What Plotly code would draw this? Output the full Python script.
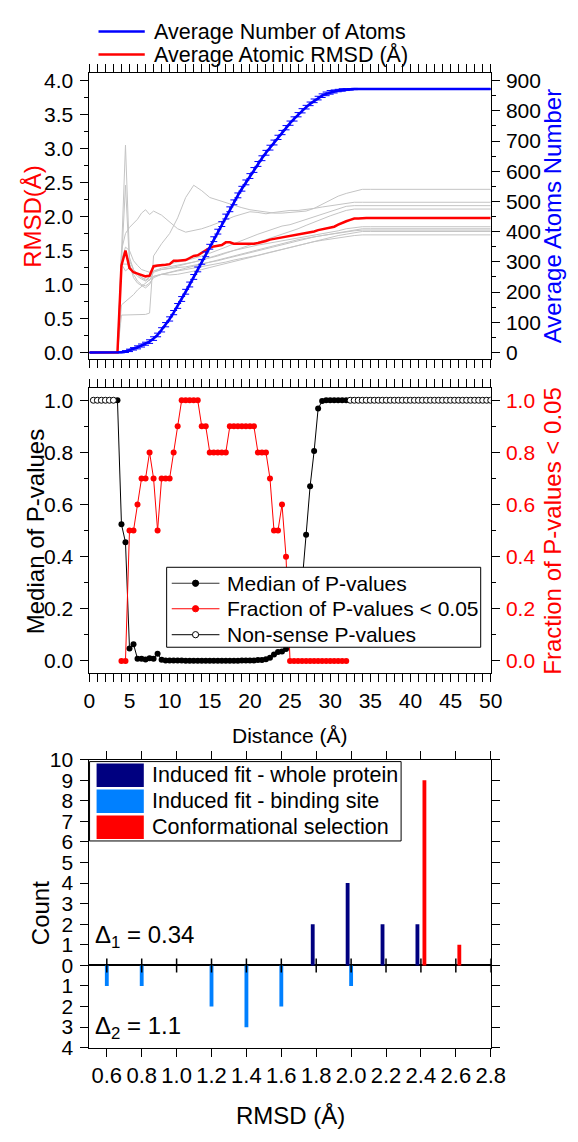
import plotly.graph_objects as go

FONT = "Liberation Sans, Arial, sans-serif"
W, H = 578, 1142

# ---------------- data: top panel ----------------
distance = [0, 0.5, 1, 1.5, 2, 2.5, 3, 3.5, 4, 4.5, 5, 5.5, 6, 6.5, 7, 7.5, 8, 8.5, 9, 9.5,
            10, 10.5, 11, 11.5, 12, 12.5, 13, 13.5, 14, 14.5, 15, 15.5, 16, 16.5, 17, 17.5,
            18, 18.5, 19, 19.5, 20, 20.5, 21, 21.5, 22, 22.5, 23, 23.5, 24, 24.5, 25, 25.5,
            26, 26.5, 27, 27.5, 28, 28.5, 29, 29.5, 30, 30.5, 31, 31.5, 32, 32.5, 33, 33.5,
            34, 34.5, 35, 35.5, 36, 36.5, 37, 37.5, 38, 38.5, 39, 39.5, 40, 40.5, 41, 41.5,
            42, 42.5, 43, 43.5, 44, 44.5, 45, 45.5, 46, 46.5, 47, 47.5, 48, 48.5, 49, 49.5, 50]

avg_atoms = [0, 0, 0, 0, 0, 0, 0, 0,
             1, 3, 7, 12, 17, 23, 29, 36, 46, 58, 75, 92,
             111, 132, 154, 177, 201, 225, 250, 275, 300, 325,
             350, 375, 400, 425, 450, 474, 497, 520, 542, 563,
             584, 604, 624, 643, 661, 678, 695, 712, 728, 744,
             759, 773, 787, 800, 812, 823, 833, 842, 850, 856,
             861, 864, 867, 869, 870, 871, 872,
             872, 872, 872, 872, 872, 872, 872, 872, 872, 872, 872, 872, 872, 872, 872, 872,
             872, 872, 872, 872, 872, 872, 872, 872, 872, 872, 872, 872, 872, 872, 872, 872,
             872, 872]

atoms_err = [0, 0, 0, 0, 0, 0, 0, 0,
             2, 3, 4, 4, 5, 5, 5, 6, 6, 6, 7, 7,
             7, 7, 8, 8, 8, 8, 8, 8, 8, 8,
             8, 8, 8, 8, 8, 8, 8, 8, 8, 8,
             8, 8, 8, 8, 8, 8, 8, 7, 7, 7,
             7, 7, 7, 7, 6, 6, 6, 6, 6, 6,
             6, 5, 4, 4, 3, 2, 2,
             0, 0, 0, 0, 0, 0, 0, 0, 0, 0, 0, 0, 0, 0, 0, 0,
             0, 0, 0, 0, 0, 0, 0, 0, 0, 0, 0, 0, 0, 0, 0, 0,
             0, 0]

avg_rmsd = [0, 0, 0, 0, 0, 0, 0, 0,
            1.28, 1.50, 1.24, 1.18, 1.16, 1.14, 1.12, 1.13, 1.27, 1.28, 1.28, 1.29,
            1.30, 1.35, 1.35, 1.35, 1.36, 1.39, 1.42, 1.43, 1.47, 1.50,
            1.54, 1.56, 1.57, 1.58, 1.62, 1.62, 1.60, 1.60, 1.59, 1.59,
            1.59, 1.60, 1.61, 1.62, 1.64, 1.66, 1.67, 1.68, 1.69, 1.70,
            1.71, 1.72, 1.73, 1.74, 1.75, 1.76, 1.78, 1.80, 1.81, 1.83,
            1.84, 1.85, 1.88, 1.91, 1.93, 1.95, 1.97, 1.97, 1.98,
            1.98, 1.98, 1.98, 1.98, 1.98, 1.98, 1.98, 1.98, 1.98, 1.98, 1.98, 1.98, 1.98, 1.98, 1.98, 1.98,
            1.98, 1.98, 1.98, 1.98, 1.98, 1.98, 1.98, 1.98, 1.98, 1.98, 1.98, 1.98, 1.98, 1.98, 1.98, 1.98]

# individual (grey) RMSD curves, sampled at their break points
gray_x = [0, 3.5, 4, 4.5, 5, 5.5, 6, 6.5, 7, 7.5, 8, 9, 10, 11, 12, 13, 14, 15, 16, 17,
          18, 19, 20, 21, 22, 23, 24, 25, 26, 27, 28, 29, 30, 31, 32, 33, 34, 35, 50]
gray_1 = [0, 0, 1.45, 3.05, 1.40, 1.22, 1.15, 1.10, 1.06, 1.12, 1.20, 1.24, 1.26, 1.28, 1.30, 1.33, 1.36, 1.40, 1.44, 1.47,
          1.50, 1.53, 1.56, 1.58, 1.60, 1.62, 1.64, 1.66, 1.68, 1.70, 1.72, 1.74, 1.76, 1.79, 1.82, 1.84, 1.85, 1.85, 1.85]
gray_2 = [0, 0, 1.30, 2.46, 1.30, 1.10, 1.02, 0.98, 0.95, 1.00, 1.12, 1.15, 1.18, 1.20, 1.22, 1.24, 1.26, 1.28, 1.30, 1.33,
          1.36, 1.38, 1.40, 1.43, 1.46, 1.49, 1.52, 1.55, 1.58, 1.60, 1.63, 1.65, 1.67, 1.69, 1.71, 1.72, 1.73, 1.73, 1.73]
gray_3 = [0, 0, 0.55, 0.55, 0.55, 0.55, 0.55, 0.55, 0.56, 0.58, 1.42, 1.60, 1.75, 1.98, 2.28, 2.46, 2.38, 2.28, 2.24, 2.20,
          2.16, 2.13, 2.10, 2.08, 2.06, 2.05, 2.05, 2.06, 2.07, 2.08, 2.12, 2.18, 2.25, 2.30, 2.34, 2.37, 2.40, 2.40, 2.40]
gray_4 = [0, 0, 0.70, 0.75, 0.80, 0.85, 0.92, 0.97, 1.02, 1.07, 1.12, 1.15, 1.14, 1.15, 1.17, 1.19, 1.22, 1.25, 1.28, 1.31,
          1.34, 1.37, 1.40, 1.43, 1.46, 1.49, 1.52, 1.55, 1.58, 1.61, 1.64, 1.67, 1.70, 1.72, 1.74, 1.76, 1.78, 1.78, 1.78]
gray_5 = [0, 0, 1.50, 1.75, 1.84, 1.90, 1.96, 2.05, 2.10, 2.03, 2.08, 2.02, 1.92, 1.82, 1.77, 1.79, 1.82, 1.86, 1.90, 1.95,
          2.00, 2.04, 2.07, 2.06, 2.04, 2.06, 2.08, 2.09, 2.09, 2.10, 2.12, 2.14, 2.16, 2.18, 2.20, 2.21, 2.21, 2.21, 2.21]
gray_6 = [0, 0, 1.35, 1.55, 1.50, 1.35, 1.28, 1.22, 1.20, 1.18, 1.25, 1.28, 1.30, 1.33, 1.35, 1.38, 1.42, 1.46, 1.50, 1.55,
          1.60, 1.65, 1.70, 1.74, 1.78, 1.82, 1.86, 1.88, 1.92, 1.96, 2.00, 2.04, 2.08, 2.12, 2.15, 2.16, 2.16, 2.16, 2.16]
gray_7 = [0, 0, 1.40, 1.45, 1.35, 1.22, 1.15, 1.10, 1.08, 1.06, 1.18, 1.22, 1.24, 1.27, 1.30, 1.32, 1.35, 1.38, 1.42, 1.46,
          1.50, 1.54, 1.58, 1.62, 1.66, 1.70, 1.74, 1.77, 1.82, 1.87, 1.92, 1.97, 2.01, 2.05, 2.09, 2.11, 2.11, 2.11, 2.11]
gray_8 = [0, 0, 1.30, 1.30, 1.30, 1.15, 1.05, 1.00, 0.98, 1.02, 1.10, 1.15, 1.18, 1.22, 1.25, 1.27, 1.30, 1.33, 1.36, 1.39,
          1.42, 1.45, 1.48, 1.51, 1.54, 1.57, 1.60, 1.63, 1.66, 1.68, 1.70, 1.72, 1.74, 1.76, 1.78, 1.80, 1.82, 1.82, 1.82]
gray_9 = [0, 0, 1.30, 1.20, 1.25, 1.18, 1.12, 1.08, 1.05, 1.10, 1.20, 1.22, 1.24, 1.25, 1.26, 1.28, 1.30, 1.32, 1.35, 1.38,
          1.41, 1.44, 1.47, 1.50, 1.53, 1.56, 1.59, 1.62, 1.65, 1.67, 1.70, 1.72, 1.74, 1.76, 1.78, 1.79, 1.80, 1.80, 1.80]
gray_curves = [gray_1, gray_2, gray_3, gray_4, gray_5, gray_6, gray_7, gray_8, gray_9]

# ---------------- data: middle panel ----------------
median_x = [3.5, 4, 4.5, 5, 5.5, 6, 6.5, 7, 7.5, 8, 8.5, 9, 9.5, 10, 10.5, 11, 11.5, 12, 12.5, 13,
            13.5, 14, 14.5, 15, 15.5, 16, 16.5, 17, 17.5, 18, 18.5, 19, 19.5, 20, 20.5, 21, 21.5,
            22, 22.5, 23, 23.5, 24, 24.5, 25, 25.5, 26, 26.5, 27, 27.5, 28, 28.5, 29, 29.5,
            30, 30.5, 31, 31.5, 32]
median_p = [1.0, 0.524, 0.455, 0.048, 0.064, 0.008, 0.008, 0.005, 0.010, 0.008, 0.027, 0.004,
            0.002, 0.002, 0.002, 0.002, 0.002, 0.001, 0.001, 0.001, 0.001, 0.001, 0.001, 0.001, 0.001,
            0.001, 0.001, 0.001, 0.001, 0.001, 0.001, 0.002, 0.002, 0.002, 0.002, 0.003, 0.003,
            0.006, 0.012, 0.025, 0.034, 0.036, 0.046, 0.07, 0.12, 0.20, 0.30, 0.484, 0.670, 0.805,
            0.968, 0.997, 1.0,
            1.0, 1.0, 1.0, 1.0, 1.0]

fraction_x = [4, 4.5, 5, 5.5, 6, 6.5, 7, 7.5, 8, 8.5, 9, 9.5, 10, 10.5, 11, 11.5, 12, 12.5, 13,
              13.5, 14, 14.5, 15, 15.5, 16, 16.5, 17, 17.5, 18, 18.5, 19, 19.5, 20, 20.5, 21, 21.5,
              22, 22.5, 23, 23.5, 24, 24.5, 25, 25.5, 26, 26.5, 27, 27.5, 28, 28.5, 29, 29.5,
              30, 30.5, 31, 31.5, 32]
fraction_p = [0, 0, 0.5, 0.5, 0.6, 0.7, 0.7, 0.8, 0.7, 0.5, 0.7, 0.7, 0.7, 0.8, 0.9, 1.0, 1.0, 1.0, 1.0,
              1.0, 0.9, 0.9, 0.8, 0.8, 0.8, 0.8, 0.8, 0.9, 0.9, 0.9, 0.9, 0.9, 0.9, 0.9, 0.8, 0.8,
              0.8, 0.7, 0.5, 0.5, 0.6, 0.4, 0, 0, 0, 0, 0, 0, 0, 0, 0, 0,
              0, 0, 0, 0, 0]

nonsense_x = [0.5, 1, 1.5, 2, 2.5, 3, None,
              32.5, 33, 33.5, 34, 34.5, 35, 35.5, 36, 36.5, 37, 37.5, 38, 38.5, 39, 39.5, 40, 40.5,
              41, 41.5, 42, 42.5, 43, 43.5, 44, 44.5, 45, 45.5, 46, 46.5, 47, 47.5, 48, 48.5, 49, 49.5, 50]
nonsense_p = [1, 1, 1, 1, 1, 1, None,
              1, 1, 1, 1, 1, 1, 1, 1, 1, 1, 1, 1, 1, 1, 1, 1, 1,
              1, 1, 1, 1, 1, 1, 1, 1, 1, 1, 1, 1, 1, 1, 1, 1, 1, 1, 1]

# ---------------- data: bottom panel ----------------
whole_rmsd = [1.78, 1.98, 2.18, 2.38]
whole_count = [2, 4, 2, 2]
site_rmsd = [0.6, 0.8, 1.2, 1.4, 1.6, 2.0]
site_count = [-1, -1, -2, -3, -2, -1]          # drawn downwards
conf_rmsd = [2.42, 2.62]
conf_count = [9, 1]
rmsd_ticks = [0.6, 0.8, 1.0, 1.2, 1.4, 1.6, 1.8, 2.0, 2.2, 2.4, 2.6, 2.8]
rmsd_ticklabels = ["0.6", "0.8", "1.0", "1.2", "1.4", "1.6", "1.8", "2.0", "2.2", "2.4", "2.6", "2.8"]
count_ticks = [-4, -3, -2, -1, 0, 1, 2, 3, 4, 5, 6, 7, 8, 9, 10]
count_ticklabels = ["4", "3", "2", "1", "0", "1", "2", "3", "4", "5", "6", "7", "8", "9", "10"]

top_names = ["Average Number of Atoms", "Average Atomic RMSD (Å)"]
mid_names = ["Median of P-values", "Fraction of P-values < 0.05", "Non-sense P-values"]
bot_names = ["Induced fit - whole protein", "Induced fit - binding site", "Conformational selection"]

NAVY, SKY, RED, BLUE, GREY = "#000080", "#0080FF", "#FF0000", "#0000FF", "#C4C4C4"

# ---------------- geometry (pixels) ----------------
PX_L, PX_R = 86.5, 503


def fx(p):
    return p / W


def fy(p):
    return 1 - p / H


xdom = [fx(PX_L), fx(PX_R)]
top_dom = [fy(354), fy(62)]
mid_dom = [fy(675), fy(384)]
bot_dom = [fy(1057), fy(763)]

fig = go.Figure()

# top panel
for g in gray_curves:
    fig.add_trace(go.Scatter(x=gray_x, y=g, mode="lines", line=dict(color=GREY, width=1),
                             xaxis="x", yaxis="y", showlegend=False, hoverinfo="skip"))
fig.add_trace(go.Scatter(x=distance, y=avg_rmsd, mode="lines", name=top_names[1],
                         line=dict(color=RED, width=2.5), xaxis="x", yaxis="y", showlegend=False))
fig.add_trace(go.Scatter(x=distance, y=avg_atoms, mode="lines", name=top_names[0],
                         line=dict(color=BLUE, width=2.6), xaxis="x", yaxis="y2", showlegend=False,
                         error_y=dict(type="data", array=atoms_err, color=BLUE, thickness=1, width=3.5)))

# middle panel
fig.add_trace(go.Scatter(x=median_x, y=median_p, mode="lines+markers", name=mid_names[0],
                         line=dict(color="black", width=1), marker=dict(color="black", size=6),
                         xaxis="x2", yaxis="y3", showlegend=False))
fig.add_trace(go.Scatter(x=fraction_x, y=fraction_p, mode="lines+markers", name=mid_names[1],
                         line=dict(color=RED, width=1), marker=dict(color=RED, size=6),
                         xaxis="x2", yaxis="y4", showlegend=False))
fig.add_trace(go.Scatter(x=nonsense_x, y=nonsense_p, mode="lines+markers", name=mid_names[2],
                         line=dict(color="black", width=1),
                         marker=dict(color="white", size=6, line=dict(color="black", width=1)),
                         xaxis="x2", yaxis="y3", showlegend=False, connectgaps=False))

# bottom panel
for xs, ys, col, name in [(whole_rmsd, whole_count, NAVY, bot_names[0]),
                          (site_rmsd, site_count, SKY, bot_names[1]),
                          (conf_rmsd, conf_count, RED, bot_names[2])]:
    fig.add_trace(go.Bar(x=xs, y=ys, width=0.022, marker=dict(color=col, line=dict(width=0)),
                         xaxis="x3", yaxis="y5", showlegend=False, name=name))
fig.add_trace(go.Scatter(x=rmsd_ticks, y=[0] * len(rmsd_ticks), mode="markers",
                         marker=dict(symbol="line-ns", size=10, line=dict(color="black", width=1.5)),
                         xaxis="x3", yaxis="y5", showlegend=False, hoverinfo="skip"))

axis_common = dict(showline=True, linecolor="black", linewidth=1, ticks="outside", tickcolor="black",
                   tickwidth=1, ticklen=8, showgrid=False, zeroline=False,
                   tickfont=dict(family=FONT, size=21, color="black"))
minor_common = dict(ticks="outside", ticklen=4, tickcolor="black", tickwidth=1)

fig.update_layout(
    width=W, height=H, margin=dict(l=0, r=0, t=0, b=0),
    paper_bgcolor="white", plot_bgcolor="white",
    font=dict(family=FONT, color="black"),
    barmode="overlay", showlegend=False,
    xaxis=dict(domain=xdom, anchor="y", range=[0, 50], dtick=5, tick0=0, showticklabels=False,
               mirror="allticks", minor=dict(dtick=1, **minor_common), **axis_common),
    yaxis=dict(domain=top_dom, anchor="x", range=[-0.094, 4.115], dtick=0.5, tick0=0, tickformat=".1f",
               minor=dict(dtick=0.25, **minor_common), ticklabelstandoff=3, **axis_common),
    yaxis2=dict(domain=top_dom, anchor="x", overlaying="y", side="right", range=[-21.15, 925.9],
                dtick=100, tick0=0, minor=dict(dtick=50, **minor_common), ticklabelstandoff=2,
                **axis_common),
    xaxis2=dict(domain=xdom, anchor="y3", range=[0, 50], dtick=5, tick0=0, mirror="allticks",
                minor=dict(dtick=1, **minor_common), **axis_common),
    yaxis3=dict(domain=mid_dom, anchor="x2", range=[-0.048, 1.046], dtick=0.2, tick0=0, tickformat=".1f",
                minor=dict(dtick=0.1, **minor_common), ticklabelstandoff=3, **axis_common),
    yaxis4=dict(domain=mid_dom, anchor="x2", overlaying="y3", side="right", range=[-0.048, 1.046],
                dtick=0.2, tick0=0, tickformat=".1f", minor=dict(dtick=0.1, **minor_common),
                ticklabelstandoff=2,
                **{**axis_common, "tickfont": dict(family=FONT, size=21, color=RED)}),
    xaxis3=dict(domain=xdom, anchor="y5", range=[0.5, 2.8], tickvals=rmsd_ticks, ticktext=rmsd_ticklabels,
                mirror="allticks",
                **{**axis_common, "tickfont": dict(family=FONT, size=22, color="black")}),
    yaxis5=dict(domain=bot_dom, anchor="x3", range=[-4, 10], tickvals=count_ticks, ticktext=count_ticklabels,
                mirror="allticks", ticklabelstandoff=3,
                **{**axis_common, "tickfont": dict(family=FONT, size=21, color="black"),
                   "zeroline": True}, zerolinecolor="black", zerolinewidth=1.5),
)


def ann(x, y, text, size, color="black", angle=0, xanchor="center"):
    fig.add_annotation(x=fx(x), y=fy(y), xref="paper", yref="paper", text=text, showarrow=False,
                       xanchor=xanchor, yanchor="middle", textangle=angle,
                       font=dict(family=FONT, size=size, color=color))


def hline(x0, x1, y, color, width):
    fig.add_shape(type="line", xref="paper", yref="paper", x0=fx(x0), x1=fx(x1), y0=fy(y), y1=fy(y),
                  line=dict(color=color, width=width))


def dot(cx, cy, r, fill, edge):
    fig.add_shape(type="circle", xref="paper", yref="paper", x0=fx(cx - r), x1=fx(cx + r),
                  y0=fy(cy + r), y1=fy(cy - r), fillcolor=fill, line=dict(color=edge, width=1))


# axis titles
ann(28, 208, "RMSD(Å)", 24, RED, -90)
ann(567, 208, "Average Atoms Number", 24, BLUE, -90)
ann(30, 530, "Median of P-values", 24, "black", -90)
ann(567, 530, "Fraction of P-values < 0.05", 24, RED, -90)
ann(295, 738, "Distance (Å)", 21)
ann(36, 920, "Count", 24, "black", -90)
ann(295, 1126, "RMSD (Å)", 24)

# top legend
for yrow, col, name in [(20, BLUE, top_names[0]), (43.5, RED, top_names[1])]:
    hline(96, 144, yrow, col, 2.5)
    ann(151, yrow, name, 21.5, xanchor="left")

# middle legend
fig.add_shape(type="rect", xref="paper", yref="paper", x0=fx(166.7), x1=fx(492.6), y0=fy(648.3),
              y1=fy(566.7), fillcolor="white", line=dict(color="black", width=1))
for yrow, lcol, mfill, medge, name in [(583, "#333333", "black", "black", mid_names[0]),
                                       (609, RED, RED, RED, mid_names[1]),
                                       (635.5, "#333333", "white", "black", mid_names[2])]:
    hline(172, 221.5, yrow, lcol, 1.2)
    dot(196.7, yrow, 3.2, mfill, medge)
    ann(227, yrow, name, 21, xanchor="left")

# bottom legend (large colour swatches)
fig.add_shape(type="rect", xref="paper", yref="paper", x0=fx(86.7), x1=fx(410), y0=fy(846), y1=fy(765),
              fillcolor="white", line=dict(color="black", width=1))
for (r0, r1), col, name in zip([(767, 791), (793.5, 817.5), (820, 844)], [NAVY, SKY, RED], bot_names):
    fig.add_shape(type="rect", xref="paper", yref="paper", line=dict(width=0), fillcolor=col,
                  x0=fx(94), x1=fx(143), y0=fy(r1), y1=fy(r0))
    ann(149, (r0 + r1) / 2, name, 21.5, xanchor="left")

ann(90, 943, "Δ<sub>1</sub> = 0.34", 24, xanchor="left")
ann(90, 1036, "Δ<sub>2</sub> = 1.1", 24, xanchor="left")

fig.write_html("out.html")
